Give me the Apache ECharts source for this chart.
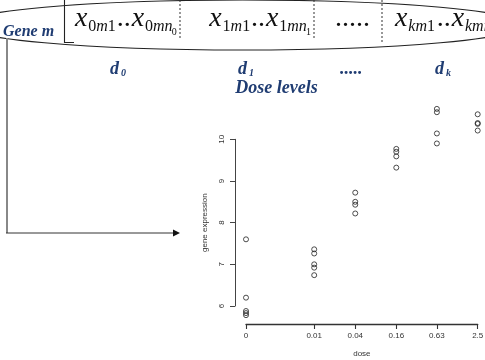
<!DOCTYPE html>
<html>
<head>
<meta charset="utf-8">
<script src="https://cdn.jsdelivr.net/npm/echarts@6/dist/echarts.min.js"></script>
<style>
  html, body { margin: 0; padding: 0; background: #fff; }
  #main { width: 485px; height: 360px; }
</style>
</head>
<body>
<div id="main"></div>
<script>
// dose levels and their tick labels
const doses = [0, 0.01, 0.04, 0.16, 0.63, 2.5];
const doseLabels = ['0', '0.01', '0.04', '0.16', '0.63', '2.5'];
// gene expression replicates per dose
const exprDose0 = [7.6, 6.2, 5.88, 5.83, 5.78];
const exprDose001 = [7.36, 7.26, 7.0, 6.92, 6.74];
const exprDose004 = [8.72, 8.5, 8.43, 8.22];
const exprDose016 = [9.77, 9.7, 9.59, 9.32];
const exprDose063 = [10.73, 10.65, 10.14, 9.9];
const exprDose25 = [10.6, 10.39, 10.37, 10.21];
const yTicks = [6, 7, 8, 9, 10];

const groups = [exprDose0, exprDose001, exprDose004, exprDose016, exprDose063, exprDose25];

// x axis is log10(dose); dose 0 sits one decade left of 0.01
function xPos(d) {
    return d === 0 ? -3 : Math.log10(d);
}
const tickPos = doses.map(xPos);

const points = [];
groups.forEach(function (vals, i) {
    vals.forEach(function (v) {
        points.push([xPos(doses[i]), v]);
    });
});

const navy = '#1f3c72';
const serif = '"Liberation Serif", "DejaVu Serif", serif';

function txt(text, x, y, size, opts) {
    opts = opts || {};
    return {
        type: 'text',
        x: x,
        y: y,
        style: {
            text: text,
            fontFamily: serif,
            fontSize: size,
            fontStyle: opts.italic === false ? 'normal' : 'italic',
            fontWeight: opts.bold ? 'bold' : 'normal',
            fill: opts.color || '#111',
            align: opts.align || 'left',
            verticalAlign: 'middle',
            rich: opts.rich
        }
    };
}

const subRich = {
    r: { fontFamily: serif, fontSize: 16, fontStyle: 'normal', fill: '#111' },
    i: { fontFamily: serif, fontSize: 16, fontStyle: 'italic', fill: '#111' }
};

// the "x...x" group for one dose level, placed from its left edge
function cellGroup(x0, k, last) {
    const kk = k === 'k' ? '{i|k}' : '{r|' + k + '}';
    const els = [
        txt('x', x0, 18.5, 28),
        txt(kk + '{i|m}{r|1}', x0 + 13.3, 27, 16, { rich: subRich }),
        txt('..', x0 + 41.7, 18.5, 28, { italic: false }),
        txt('x', x0 + 56.7, 18.5, 28),
        txt(kk + '{i|mn}', x0 + 70, 27, 16, { rich: subRich })
    ];
    if (last !== null) {
        els.push(txt(last, x0 + 96.7, 32, 10, { italic: false }));
    }
    return els;
}

const decor = [].concat(
    [
        { type: 'ellipse', shape: { cx: 242.5, cy: 25, rx: 280, ry: 25 },
          style: { fill: 'none', stroke: '#222', lineWidth: 1.1 } },
        { type: 'polyline', shape: { points: [[64.5, 0], [64.5, 42.5], [74, 42.5]] },
          style: { fill: 'none', stroke: '#222', lineWidth: 1.1 } },
        { type: 'line', shape: { x1: 180, y1: 0, x2: 180, y2: 40 },
          style: { stroke: '#333', lineWidth: 1, lineDash: [2, 2] } },
        { type: 'line', shape: { x1: 314, y1: 0, x2: 314, y2: 40 },
          style: { stroke: '#333', lineWidth: 1, lineDash: [2, 2] } },
        { type: 'line', shape: { x1: 382, y1: 0, x2: 382, y2: 42 },
          style: { stroke: '#333', lineWidth: 1, lineDash: [2, 2] } },
        txt('Gene m', 3, 31.5, 16, { bold: true, color: navy }),
        txt('.....', 335, 18.5, 28, { italic: false })
    ],
    cellGroup(75, '0', '0'),
    cellGroup(209.3, '1', '1'),
    cellGroup(395, 'k', null),
    [
        txt('d', 110, 69, 18, { bold: true, color: navy }),
        txt('0', 121, 73, 10, { bold: true, color: navy }),
        txt('d', 238, 69, 18, { bold: true, color: navy }),
        txt('1', 249, 73, 10, { bold: true, color: navy }),
        txt('.....', 340, 69, 18, { bold: true, color: navy }),
        txt('d', 435, 69, 18, { bold: true, color: navy }),
        txt('k', 446, 73, 10, { bold: true, color: navy }),
        txt('Dose levels', 276.5, 88, 18, { bold: true, color: navy, align: 'center' }),
        // arrow from the gene row to the plot
        { type: 'line', shape: { x1: 7, y1: 38, x2: 7, y2: 233 },
          style: { stroke: '#888', lineWidth: 2 } },
        { type: 'line', shape: { x1: 6, y1: 233, x2: 174, y2: 233 },
          style: { stroke: '#333', lineWidth: 1 } },
        { type: 'polygon', shape: { points: [[173, 229.5], [180, 233], [173, 236.5]] },
          style: { fill: '#111' } }
    ]
);

const chart = echarts.init(document.getElementById('main'), null, { renderer: 'canvas' });

const axisFont = { fontFamily: '"Liberation Sans", Arial, sans-serif', fontSize: 8, color: '#333' };

chart.setOption({
    animation: false,
    backgroundColor: '#fff',
    grid: { left: 246, right: 7.3, top: 139.3, bottom: 54, outerBoundsMode: 'none' },
    xAxis: {
        type: 'value',
        position: 'bottom',
        min: -3,
        max: Math.log10(2.5),
        offset: 18,
        name: 'dose',
        nameLocation: 'middle',
        nameGap: 26,
        nameTextStyle: axisFont,
        axisLine: { show: true, onZero: false, lineStyle: { color: '#333', width: 1.3 } },
        axisTick: { show: true, length: 5, customValues: tickPos, lineStyle: { color: '#333', width: 1.1 } },
        axisLabel: {
            customValues: tickPos,
            margin: 8,
            fontFamily: axisFont.fontFamily,
            fontSize: axisFont.fontSize,
            color: axisFont.color,
            formatter: function (v) {
                let best = 0;
                tickPos.forEach(function (p, i) {
                    if (Math.abs(p - v) < Math.abs(tickPos[best] - v)) best = i;
                });
                return doseLabels[best];
            }
        },
        splitLine: { show: false }
    },
    yAxis: {
        type: 'value',
        min: yTicks[0],
        max: yTicks[yTicks.length - 1],
        interval: 1,
        offset: 11,
        name: 'gene expression',
        nameLocation: 'middle',
        nameRotate: 90,
        nameGap: 26,
        nameTextStyle: axisFont,
        axisLine: { show: true, onZero: false, lineStyle: { color: '#444', width: 1 } },
        axisTick: { show: true, length: 5, lineStyle: { color: '#444' } },
        axisLabel: {
            rotate: 90,
            margin: 9,
            fontFamily: axisFont.fontFamily,
            fontSize: axisFont.fontSize,
            color: axisFont.color
        },
        splitLine: { show: false }
    },
    graphic: decor,
    series: [{
        type: 'scatter',
        data: points,
        clip: false,
        symbol: 'circle',
        symbolSize: 5,
        itemStyle: { color: 'rgba(0,0,0,0)', borderColor: '#222', borderWidth: 1 }
    }]
});
</script>
</body>
</html>
